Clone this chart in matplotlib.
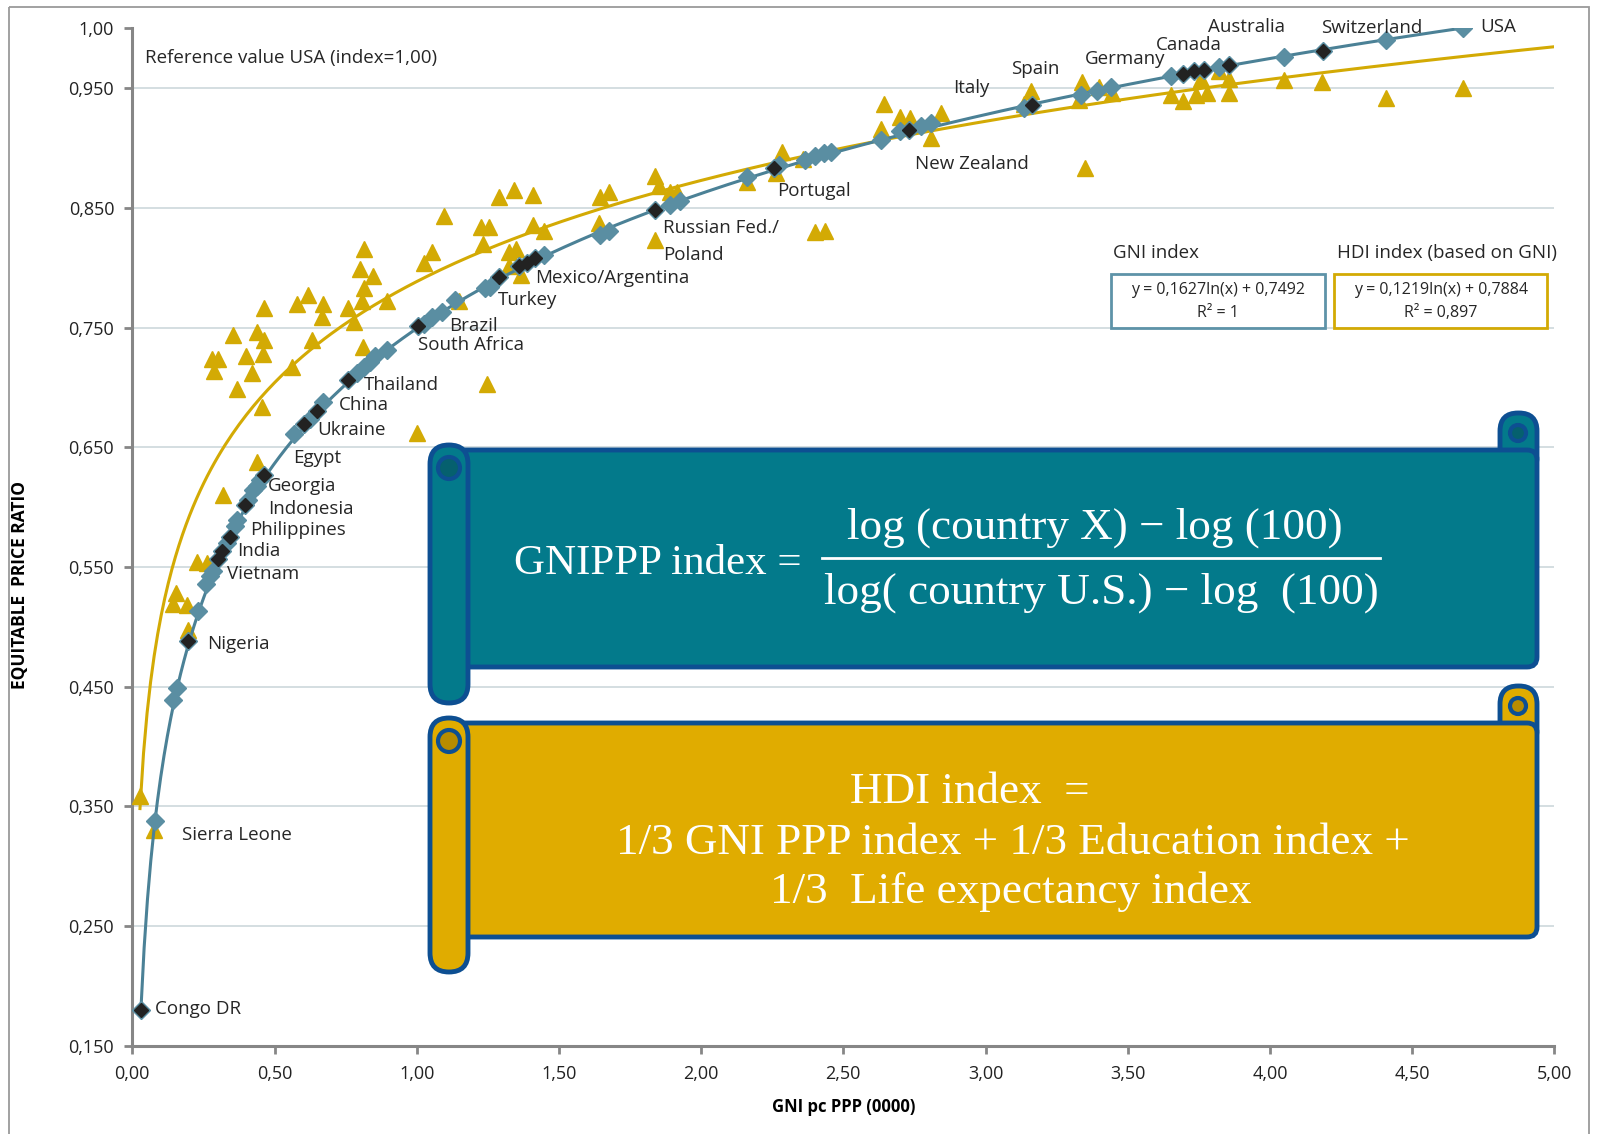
import numpy as np
import matplotlib
matplotlib.use("Agg")
import matplotlib.pyplot as plt
from matplotlib.patches import FancyBboxPatch, Circle, Rectangle

plt.rcParams['font.family'] = ['Open Sans', 'DejaVu Sans']

# GNI index per country (GNI pc PPP in 0000 USD, equitable price ratio)
gni_x = [0.030, 0.080, 0.144, 0.156, 0.197, 0.232, 0.259, 0.273, 0.285, 0.303,
         0.315, 0.332, 0.344, 0.361, 0.367, 0.397, 0.408, 0.426, 0.438, 0.449,
         0.464, 0.567, 0.602, 0.625, 0.649, 0.672, 0.760, 0.790, 0.813, 0.836,
         0.854, 0.895, 1.006, 1.024, 1.053, 1.089, 1.135, 1.241, 1.259, 1.288,
         1.358, 1.388, 1.417, 1.446, 1.646, 1.675, 1.839, 1.892, 1.927, 2.162,
         2.256, 2.273, 2.367, 2.402, 2.431, 2.455, 2.631, 2.701, 2.731, 2.772,
         2.807, 3.135, 3.165, 3.335, 3.393, 3.440, 3.651, 3.696, 3.733, 3.768,
         3.821, 3.856, 4.048, 4.185, 4.408, 4.678]
gni_y = [0.180, 0.338, 0.439, 0.449, 0.488, 0.513, 0.536, 0.542, 0.547, 0.557,
         0.563, 0.570, 0.575, 0.584, 0.589, 0.602, 0.606, 0.614, 0.618, 0.623,
         0.627, 0.661, 0.669, 0.674, 0.680, 0.688, 0.706, 0.712, 0.717, 0.721,
         0.726, 0.731, 0.751, 0.753, 0.759, 0.763, 0.773, 0.783, 0.784, 0.792,
         0.801, 0.804, 0.808, 0.811, 0.827, 0.831, 0.848, 0.852, 0.856, 0.876,
         0.883, 0.886, 0.890, 0.893, 0.896, 0.897, 0.907, 0.914, 0.915, 0.918,
         0.921, 0.933, 0.936, 0.944, 0.948, 0.951, 0.960, 0.962, 0.964, 0.965,
         0.968, 0.969, 0.976, 0.981, 0.990, 1.000]

# countries singled out on the GNI curve
named_x = [0.030, 0.197, 0.303, 0.315, 0.344, 0.397, 0.464, 0.602, 0.649, 0.760,
           1.006, 1.288, 1.358, 1.388, 1.417, 1.839, 2.256, 2.731, 3.165, 3.696,
           3.733, 3.768, 3.856, 4.185]
named_y = [0.180, 0.488, 0.557, 0.563, 0.575, 0.602, 0.627, 0.669, 0.680, 0.706,
           0.751, 0.792, 0.801, 0.804, 0.808, 0.848, 0.883, 0.915, 0.936, 0.962,
           0.964, 0.965, 0.969, 0.981]

# HDI index per country
hdi_x = [0.027, 0.077, 0.144, 0.154, 0.194, 0.197, 0.229, 0.264, 0.320, 0.438,
         0.279, 0.303, 0.287, 0.353, 0.367, 0.400, 0.421, 0.438, 0.455, 0.461,
         0.462, 0.464, 0.561, 0.578, 0.617, 0.631, 0.666, 0.670, 0.757, 0.780,
         0.801, 0.809, 0.811, 0.813, 0.813, 0.846, 0.895, 1.001, 1.024, 1.053,
         1.095, 1.147, 1.226, 1.233, 1.246, 1.254, 1.288, 1.323, 1.323, 1.343,
         1.350, 1.367, 1.409, 1.409, 1.446, 1.640, 1.643, 1.675, 1.837, 1.839,
         1.852, 1.892, 1.916, 2.162, 2.265, 2.285, 2.359, 2.399, 2.437, 2.631,
         2.643, 2.701, 2.734, 2.807, 2.842, 3.135, 3.161, 3.329, 3.340, 3.349,
         3.399, 3.446, 3.651, 3.696, 3.739, 3.757, 3.778, 3.821, 3.856, 3.856,
         4.048, 4.182, 4.408, 4.678]
hdi_y = [0.359, 0.330, 0.519, 0.528, 0.518, 0.497, 0.554, 0.553, 0.610, 0.638,
         0.724, 0.724, 0.714, 0.744, 0.699, 0.726, 0.712, 0.746, 0.684, 0.728,
         0.766, 0.740, 0.717, 0.770, 0.777, 0.740, 0.759, 0.770, 0.766, 0.755,
         0.799, 0.772, 0.734, 0.783, 0.816, 0.793, 0.772, 0.662, 0.804, 0.813,
         0.843, 0.772, 0.834, 0.820, 0.703, 0.834, 0.859, 0.813, 0.801, 0.865,
         0.816, 0.794, 0.861, 0.836, 0.831, 0.837, 0.859, 0.863, 0.823, 0.877,
         0.868, 0.863, 0.863, 0.872, 0.879, 0.897, 0.891, 0.830, 0.831, 0.916,
         0.937, 0.926, 0.925, 0.908, 0.929, 0.937, 0.948, 0.940, 0.955, 0.883,
         0.951, 0.946, 0.944, 0.939, 0.944, 0.958, 0.946, 0.964, 0.958, 0.946,
         0.957, 0.955, 0.942, 0.950]

# logarithmic trend lines: y = a*ln(x) + b, with R squared
gni_fit = (0.1627, 0.7492, "1")
hdi_fit = (0.1219, 0.7884, "0,897")

x_ticks = [0.0, 0.5, 1.0, 1.5, 2.0, 2.5, 3.0, 3.5, 4.0, 4.5, 5.0]
x_labels = ["0,00", "0,50", "1,00", "1,50", "2,00", "2,50", "3,00", "3,50", "4,00", "4,50", "5,00"]
y_ticks = [0.15, 0.25, 0.35, 0.45, 0.55, 0.65, 0.75, 0.85, 0.95, 1.00]
y_labels = ["0,150", "0,250", "0,350", "0,450", "0,550", "0,650", "0,750", "0,850", "0,950", "1,00"]

BLUE_LINE = '#4B8196'
BLUE_MARK = '#5A8EA2'
GOLD = '#D3AA04'
AXIS_GREY = '#868686'
TXT = '#262626'

W, H = 1597, 1134
fig = plt.figure(figsize=(W / 100, H / 100), dpi=100)
ax = fig.add_axes([132.3 / W, 1 - 1045.7 / H, 1422 / W, 1017.4 / H])

for y in y_ticks[1:-1]:
    ax.axhline(y, color='#C9D4D9', lw=1.1, zorder=0)

# HDI scatter and its trend
ax.plot(hdi_x, hdi_y, ls='none', marker='^', ms=11, color=GOLD, mec=GOLD, zorder=3)
xs = np.linspace(0.027, 5.0, 400)
ax.plot(xs, hdi_fit[0] * np.log(xs) + hdi_fit[1], color=GOLD, lw=2.2, zorder=4)

# GNI index curve
xs = np.linspace(0.030, 4.678, 400)
ax.plot(xs, gni_fit[0] * np.log(xs) + gni_fit[1], color=BLUE_LINE, lw=2.2, zorder=5)
ax.plot(gni_x, gni_y, ls='none', marker='D', ms=9, color=BLUE_MARK, mec=BLUE_MARK, zorder=6)
ax.plot(named_x, named_y, ls='none', marker='D', ms=7, color='#222222', mec='#222222', zorder=7)

ax.set_xlim(0, 5)
ax.set_ylim(0.15, 1.0)
ax.set_xticks(x_ticks)
ax.set_xticklabels(x_labels)
ax.set_yticks(y_ticks)
ax.set_yticklabels(y_labels)
ax.tick_params(axis='both', length=6, width=2, color=AXIS_GREY, labelsize=13, labelcolor='#222222')
ax.tick_params(axis='y', pad=7)
ax.tick_params(axis='x', pad=8)
for side in ('top', 'right'):
    ax.spines[side].set_visible(False)
for side in ('left', 'bottom'):
    ax.spines[side].set_color(AXIS_GREY)
    ax.spines[side].set_linewidth(2.2)

ax.set_xlabel("GNI pc PPP (0000)", fontsize=12, fontweight='bold', labelpad=11)
fig.text(20 / W, 1 - 585 / H, "EQUITABLE  PRICE RATIO", rotation=90, fontsize=12.5,
         fontweight='bold', ha='center', va='center')

labels = [
    ("Reference value USA (index=1,00)", 0.043, 0.975),
    ("Congo DR", 0.080, 0.181), ("Sierra Leone", 0.176, 0.326), ("Nigeria", 0.262, 0.486),
    ("Vietnam", 0.333, 0.544), ("India", 0.369, 0.563), ("Philippines", 0.416, 0.581),
    ("Indonesia", 0.477, 0.598), ("Georgia", 0.477, 0.618), ("Egypt", 0.567, 0.641),
    ("Ukraine", 0.649, 0.664), ("China", 0.728, 0.685), ("Thailand", 0.814, 0.702),
    ("Brazil", 1.115, 0.751), ("South Africa", 1.004, 0.735), ("Turkey", 1.287, 0.773),
    ("Mexico/Argentina", 1.416, 0.791), ("Russian Fed./", 1.867, 0.833), ("Poland", 1.867, 0.811),
    ("Portugal", 2.268, 0.864), ("New Zealand", 2.753, 0.887), ("Italy", 2.885, 0.950),
    ("Spain", 3.090, 0.966), ("Germany", 3.348, 0.974), ("Canada", 3.599, 0.986),
    ("Australia", 3.782, 1.001), ("Switzerland", 4.179, 1.000), ("USA", 4.738, 1.001),
]
for txt, lx, ly in labels:
    ax.text(lx, ly, txt, fontsize=13.5, color=TXT, ha='left', va='center', zorder=8, clip_on=False)

# trend line equations
for head, fit, x0, x1, col in [("GNI index", gni_fit, 3.440, 4.193, '#5E93A8'),
                               ("HDI index (based on GNI)", hdi_fit, 4.225, 4.975, GOLD)]:
    ax.text(x0 + 0.01, 0.812, head, fontsize=13.5, color=TXT, ha='left', va='center', zorder=8)
    ax.add_patch(Rectangle((x0, 0.750), x1 - x0, 0.045, fill=False, ec=col, lw=2, zorder=8))
    eq = "y = {:.4f}ln(x) + {:.4f}".format(fit[0], fit[1]).replace('.', ',')
    ax.text((x0 + x1) / 2, 0.781, eq, fontsize=11.5, ha='center', va='center', color=TXT, zorder=8)
    ax.text((x0 + x1) / 2, 0.762, "R² = " + fit[2], fontsize=11.5, ha='center', va='center',
            color=TXT, zorder=8)

# overlay in pixel units for the frame and the two scroll banners
ov = fig.add_axes([0, 0, 1, 1], zorder=10)
ov.set_xlim(0, W)
ov.set_ylim(H, 0)
ov.axis('off')
ov.add_patch(Rectangle((9, 7), 1580, H + 20, fill=False, ec='#9A9A9A', lw=1.3))

EDGE = '#0D4F92'


def scroll(top, bottom, roll_bottom, curl_top, face, shade):
    left, right = 430, 1537
    ov.add_patch(FancyBboxPatch((right - 37, curl_top), 37, top - curl_top + 25,
                                boxstyle='round,pad=0,rounding_size=18', fc=face, ec=EDGE, lw=3.5, zorder=1))
    ov.add_patch(FancyBboxPatch((450, top), right - 450, bottom - top,
                                boxstyle='round,pad=0,rounding_size=10', fc=face, ec=EDGE, lw=3.5, zorder=2))
    ov.add_patch(Circle((right - 19, curl_top + 20), 8, fc=shade, ec=EDGE, lw=3, zorder=3))
    ov.add_patch(FancyBboxPatch((left, top - 5), 38, roll_bottom - top + 5,
                                boxstyle='round,pad=0,rounding_size=19', fc=face, ec=EDGE, lw=3.5, zorder=4))
    ov.add_patch(Circle((left + 19, top + 18), 11, fc=shade, ec=EDGE, lw=3, zorder=5))


serif = ['Liberation Serif', 'DejaVu Serif']
scroll(450, 667, 703, 413, '#037A8B', '#05606E')
ov.text(514, 564, "GNIPPP index =", color='white', fontsize=31, family=serif, ha='left', va='center', zorder=6)
ov.text(1095, 528, "log (country X) \u2212 log (100)", color='white', fontsize=32.5, family=serif,
        ha='center', va='center', zorder=6)
ov.plot([822, 1380], [558, 558], color='white', lw=2, zorder=6)
ov.text(1101, 593, "log( country U.S.) \u2212 log  (100)", color='white', fontsize=32.5, family=serif,
        ha='center', va='center', zorder=6)

scroll(723, 937, 972, 686, '#E0AC00', '#B88C00')
for line, tx, ty in [("HDI index  =", 970, 792), ("1/3 GNI PPP index + 1/3 Education index +", 1013, 843),
                     ("1/3  Life expectancy index", 1011, 892)]:
    ov.text(tx, ty, line, color='white', fontsize=32.5, family=serif, ha='center', va='center', zorder=6)

fig.savefig("out.png", dpi=100)
